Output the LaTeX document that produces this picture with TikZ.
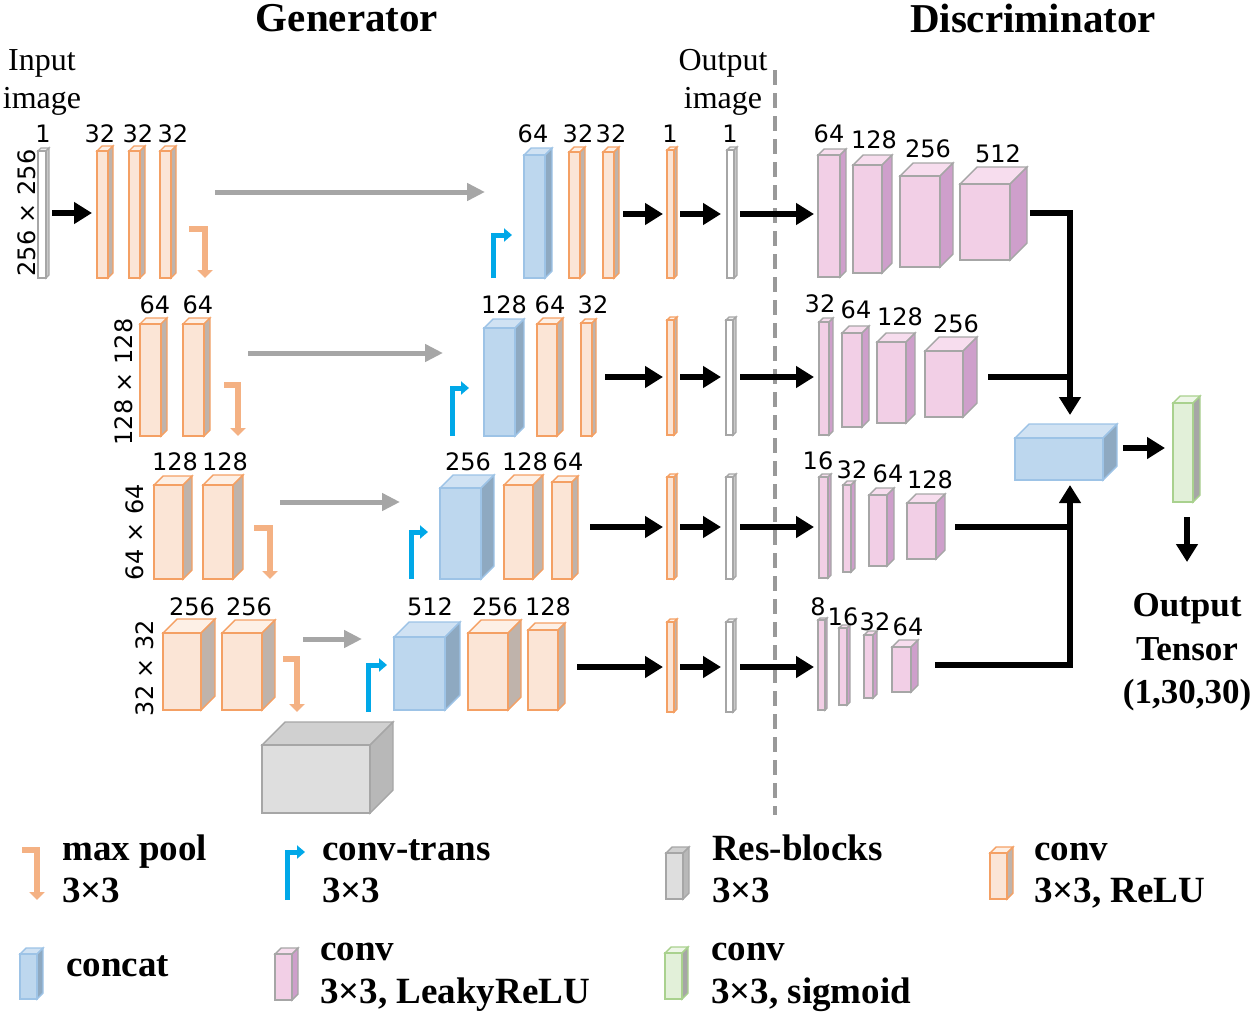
\documentclass[tikz,border=0pt]{standalone}
\usepackage{fontspec}
\setmainfont{Liberation Serif}
\newfontfamily\numfont{DejaVu Sans}
\usetikzlibrary{arrows.meta}

\definecolor{orgedge}{HTML}{F4A064}
\definecolor{orgfront}{HTML}{FBE5D6}
\definecolor{orgtop}{HTML}{FDF0E6}
\definecolor{orgside}{HTML}{BFB3AB}
\definecolor{bluedge}{HTML}{9DC3E6}
\definecolor{blufront}{HTML}{BDD7EE}
\definecolor{blutop}{HTML}{D0E2F3}
\definecolor{bluside}{HTML}{8EA9C1}
\definecolor{pnkedge}{HTML}{A6A6A6}
\definecolor{pnkfront}{HTML}{F2CFE6}
\definecolor{pnktop}{HTML}{F7DDEE}
\definecolor{pnkside}{HTML}{CE9FCB}
\definecolor{gryedge}{HTML}{A6A6A6}
\definecolor{gryfront}{HTML}{DEDEDE}
\definecolor{grytop}{HTML}{D0D0D0}
\definecolor{gryside}{HTML}{B8B8B8}
\definecolor{whtedge}{HTML}{A6A6A6}
\definecolor{whtfront}{HTML}{FFFFFF}
\definecolor{whttop}{HTML}{EEEEEE}
\definecolor{whtside}{HTML}{C8C8C8}
\definecolor{grnedge}{HTML}{A9D18E}
\definecolor{grnfront}{HTML}{E2F0D9}
\definecolor{grntop}{HTML}{EEF6E8}
\definecolor{grnside}{HTML}{A6A6A6}
\definecolor{poolorg}{HTML}{F4B183}
\definecolor{upblue}{HTML}{00A8E8}
\definecolor{skipgray}{HTML}{A6A6A6}
\definecolor{dashgray}{HTML}{999999}

% block: kind, x, y (top of front), width, height, depth
\newcommand{\blk}[6]{%
   \filldraw[draw=#1edge,line width=1.4pt,fill=#1top] (#2,#3) -- ++(#6,-#6) -- ++(#4,0) -- ++(-#6,#6) -- cycle;
   \filldraw[draw=#1edge,line width=1.4pt,fill=#1side] ({#2+#4},#3) -- ++(#6,-#6) -- ++(0,#5) -- ++(-#6,#6) -- cycle;
   \filldraw[draw=#1edge,line width=1.4pt,fill=#1front] (#2,#3) rectangle ++(#4,#5);
}

\tikzset{
   fwd/.style={line width=6.5pt,-{Triangle[length=18pt,width=21pt]}},
   link/.style={line width=6.5pt},
   skiparrow/.style={line width=5pt,draw=skipgray,-{Triangle[length=18pt,width=17pt]}},
   poolarrow/.style={line width=6pt,draw=poolorg,-{Triangle[length=8pt,width=15pt]}},
   uparrow/.style={line width=5pt,draw=upblue,-{Triangle[length=8pt,width=13pt]}},
   num/.style={font=\numfont\fontsize{24}{26}\selectfont,anchor=base,inner sep=0pt},
   sizelbl/.style={font=\numfont\fontsize{24}{26}\selectfont,rotate=90,inner sep=0pt},
   ttl/.style={font=\bfseries\fontsize{41}{45}\selectfont,inner sep=0pt},
   imgcap/.style={font=\fontsize{32}{36}\selectfont,inner sep=0pt},
   leg/.style={font=\bfseries\fontsize{37}{42}\selectfont,anchor=base west,inner sep=0pt},
   outl/.style={font=\bfseries\fontsize{35}{40}\selectfont,anchor=base,inner sep=0pt}
}

\begin{document}
\begin{tikzpicture}[x=1pt,y=-1pt]
   \useasboundingbox (0,0) rectangle (1255,1015);

   % titles
   \node[ttl] (gen) at (347,18) {Generator};
   \node[ttl] (dis) at (1033,18) {Discriminator};
   \node[imgcap] (inimga) at (42,63) {Input};
   \node[imgcap] (inimgb) at (42,101) {image};
   \node[imgcap] (outimga) at (723,63) {Output};
   \node[imgcap] (outimgb) at (723,101) {image};

   \draw[dash pattern=on 15pt off 8pt,line width=4pt,draw=dashgray] (775,70) -- (775,815);

   % row 1
   \blk{wht}{38}{151}{8}{127}{3}
   \blk{org}{97}{151}{11}{127}{5}
   \blk{org}{129}{151}{11}{127}{5}
   \blk{org}{160}{151}{11}{127}{5}
   \blk{blu}{524}{155}{21}{123}{7}
   \blk{org}{569}{152}{11}{126}{5}
   \blk{org}{603}{152}{11}{126}{5}
   \blk{org}{667}{150}{7}{128}{3}
   \blk{wht}{727}{150}{7}{128}{3}
   \blk{pnk}{818}{155}{22}{122}{6}
   \blk{pnk}{853}{165}{29}{108}{10}
   \blk{pnk}{900}{176}{40}{91}{13}
   \blk{pnk}{960}{184}{50}{76}{17}

   % row 2
   \blk{org}{140}{324}{21}{112}{6}
   \blk{org}{183}{324}{21}{112}{6}
   \blk{blu}{484}{328}{31}{108}{9}
   \blk{org}{537}{324}{20}{112}{6}
   \blk{org}{581}{323}{11}{113}{4}
   \blk{org}{667}{320}{7}{115}{3}
   \blk{wht}{726}{320}{7}{115}{3}
   \blk{pnk}{819}{322}{10}{113}{4}
   \blk{pnk}{842}{333}{20}{94}{7}
   \blk{pnk}{877}{342}{29}{81}{9}
   \blk{pnk}{925}{351}{38}{66}{14}

   % row 3
   \blk{org}{154}{485}{29}{94}{9}
   \blk{org}{203}{485}{30}{94}{10}
   \blk{blu}{440}{488}{41}{91}{13}
   \blk{org}{504}{485}{29}{94}{10}
   \blk{org}{552}{482}{20}{97}{6}
   \blk{org}{667}{477}{7}{102}{3}
   \blk{wht}{726}{477}{7}{102}{3}
   \blk{pnk}{819}{477}{9}{101}{3}
   \blk{pnk}{843}{485}{8}{87}{4}
   \blk{pnk}{869}{495}{18}{71}{7}
   \blk{pnk}{907}{503}{29}{56}{9}

   % row 4
   \blk{org}{163}{633}{38}{77}{14}
   \blk{org}{222}{633}{40}{77}{13}
   \blk{blu}{394}{637}{51}{73}{15}
   \blk{org}{468}{633}{40}{77}{13}
   \blk{org}{528}{630}{30}{80}{7}
   \blk{org}{667}{622}{7}{90}{3}
   \blk{wht}{726}{622}{7}{90}{3}
   \blk{pnk}{818}{620}{7}{90}{2}
   \blk{pnk}{839}{628}{8}{77}{3}
   \blk{pnk}{864}{635}{9}{63}{4}
   \blk{pnk}{892}{647}{19}{45}{7}

   % bottleneck, joint concat, output
   \blk{gry}{262}{745}{108}{68}{23}
   \blk{blu}{1015}{438}{88}{42}{14}
   \blk{grn}{1173}{403}{20}{99}{7}

   % sizes
   \node[sizelbl] (sza) at (27,213) {256 × 256};
   \node[sizelbl] (szb) at (124,382) {128 × 128};
   \node[sizelbl] (szc) at (135,532) {64 × 64};
   \node[sizelbl] (szd) at (145,668) {32 × 32};

   % channels
   \foreach \x/\t [count=\i] in {43/1,100/32,138/32,173/32,533/64,578/32,611/32,670/1,730/1}
      \node[num] (ga\i) at (\x,142) {\t};
   \foreach \x/\t [count=\i] in {155/64,198/64,504/128,550/64,593/32}
      \node[num] (gb\i) at (\x,313) {\t};
   \foreach \x/\t [count=\i] in {175/128,225/128,468/256,525/128,568/64}
      \node[num] (gc\i) at (\x,470) {\t};
   \foreach \x/\t [count=\i] in {192/256,249/256,430/512,495/256,548/128}
      \node[num] (gd\i) at (\x,615) {\t};
   \foreach \x/\y/\t [count=\i] in {829/142/64,874/148/128,928/157/256,998/162/512,
         820/312/32,856/318/64,900/325/128,956/332/256,
         818/469/16,852/478/32,888/482/64,930/488/128,
         818/615/8,843/625/16,875/630/32,908/635/64}
      \node[num] (d\i) at (\x,\y) {\t};

   % skip connections
   \draw[skiparrow] (215,192) -- (485,192);
   \draw[skiparrow] (248,353) -- (443,353);
   \draw[skiparrow] (280,502) -- (400,502);
   \draw[skiparrow] (303,639) -- (362,639);

   % max pool
   \draw[poolarrow] (189,229) -| (205,278);
   \draw[poolarrow] (224,385) -| (238,436);
   \draw[poolarrow] (254,528) -| (270,579);
   \draw[poolarrow] (283,659) -| (297,712);
   \draw[poolarrow] (22,850) -| (37,900);

   % conv-trans
   \draw[uparrow] (493,278) |- (512,235);
   \draw[uparrow] (452,436) |- (469,388);
   \draw[uparrow] (411,579) |- (428,532);
   \draw[uparrow] (368,712) |- (387,665);
   \draw[uparrow] (287,900) |- (305,852);

   % forward
   \draw[fwd] (52,213) -- (92,213);
   \foreach \y/\s in {214/623,377/605,527/590,667/577} {
      \draw[fwd] (\s,\y) -- (663,\y);
      \draw[fwd] (680,\y) -- (721,\y);
      \draw[fwd] (740,\y) -- (814,\y);
   }
   \draw[fwd] (1030,213) -| (1070,415);
   \draw[link] (988,377) -- (1070,377);
   \draw[fwd] (935,665) -| (1070,485);
   \draw[link] (955,527) -- (1070,527);
   \draw[fwd] (1123,448) -- (1165,448);
   \draw[fwd] (1187,517) -- (1187,562);

   \node[outl] (outa) at (1187,616) {Output};
   \node[outl] (outb) at (1187,660) {Tensor};
   \node[outl] (outc) at (1187,703) {(1,30,30)};

   % legend
   \blk{gry}{666}{853}{17}{46}{6}
   \blk{org}{990}{853}{17}{46}{6}
   \blk{blu}{20}{954}{17}{45}{6}
   \blk{pnk}{275}{954}{17}{46}{6}
   \blk{grn}{665}{953}{17}{46}{6}
   \node[leg] (lpa) at (62,860) {max pool};
   \node[leg] (lpb) at (62,902) {3×3};
   \node[leg] (lta) at (322,860) {conv-trans};
   \node[leg] (ltb) at (322,902) {3×3};
   \node[leg] (lra) at (712,860) {Res-blocks};
   \node[leg] (lrb) at (712,902) {3×3};
   \node[leg] (loa) at (1034,860) {conv};
   \node[leg] (lob) at (1034,902) {3×3, ReLU};
   \node[leg] (lca) at (66,976) {concat};
   \node[leg] (lka) at (320,960) {conv};
   \node[leg] (lkb) at (320,1003) {3×3, LeakyReLU};
   \node[leg] (lsa) at (711,960) {conv};
   \node[leg] (lsb) at (711,1003) {3×3, sigmoid};
\end{tikzpicture}
\end{document}
